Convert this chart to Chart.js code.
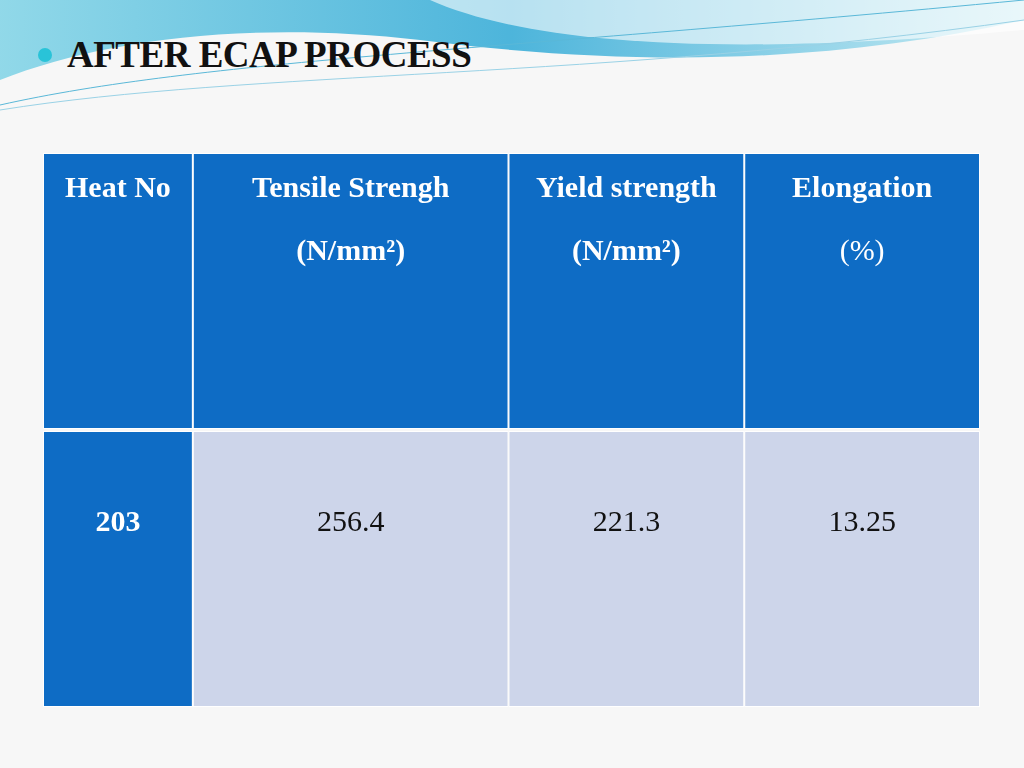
<!DOCTYPE html>
<html>
<head>
<meta charset="utf-8">
<script src="https://cdn.jsdelivr.net/npm/chart.js@4/dist/chart.umd.min.js"></script>
<style>
  html, body { margin: 0; padding: 0; }
  body { width: 1024px; height: 768px; overflow: hidden; position: relative;
         background: #f7f7f7; font-family: "Liberation Serif", serif; }
  #waves { position: absolute; left: 0; top: 0; }
  #title { position: absolute; left: 67px; top: 33px; font-size: 37px; font-weight: bold;
           color: #111; letter-spacing: -0.5px; }
  #bullet { position: absolute; left: 38px; top: 48px; width: 14px; height: 14px;
            border-radius: 50%; background: #29c3d8; }
  #wrap { position: absolute; left: 0; top: 0; width: 1024px; height: 768px; }
</style>
</head>
<body>
<svg id="waves" width="1024" height="120">
  <defs>
    <linearGradient id="g1" x1="0" x2="1" y1="0" y2="0">
      <stop offset="0" stop-color="#7fd3e6"/>
      <stop offset="0.5" stop-color="#2fa9d6"/>
      <stop offset="1" stop-color="#bfe9f2"/>
    </linearGradient>
  </defs>
  <path d="M0,0 L1024,0 L1024,20 C850,60 650,70 420,40 C250,20 100,40 0,80 Z" fill="url(#g1)" opacity="0.85"/>
  <path d="M430,0 C520,40 700,60 1024,30 L1024,0 Z" fill="#ffffff" opacity="0.6"/>
  <path d="M0,105 C200,60 500,50 1024,0" stroke="#5ab8d8" stroke-width="1" fill="none"/>
  <path d="M0,110 C250,70 600,80 1024,20" stroke="#9ad2e6" stroke-width="1" fill="none"/>
</svg>
<div id="bullet"></div>
<div id="title">AFTER ECAP PROCESS</div>
<div id="wrap"><canvas id="c" width="1024" height="768"></canvas></div>
<script>
const rows = ["header", "body"];
const columns = ["Heat No", "Tensile Strengh", "Yield strength", "Elongation"];
const units = ["", "(N/mm²)", "(N/mm²)", "(%)"];
const values = ["203", "256.4", "221.3", "13.25"];

// column widths in table units (layout only)
const colWidths = [150, 316, 236, 236];
const blue = "#0e6cc5";
const pale = "#cdd5ea";

let edge = 0;
const datasets = columns.map((name, i) => {
  const x0 = edge, x1 = edge + colWidths[i];
  edge = x1;
  return {
    label: name,
    data: [{y: "header", x: [x0, x1]}, {y: "body", x: [x0, x1]}],
    backgroundColor: [blue, i === 0 ? blue : pale],
    borderColor: "#ffffff",
    borderWidth: 1,
    borderSkipped: false,
    grouped: false,
    barPercentage: 0.992,
    categoryPercentage: 1
  };
});

const cellText = {
  id: "cellText",
  afterDatasetsDraw(chart) {
    const ctx = chart.ctx;
    ctx.save();
    ctx.textAlign = "center";
    ctx.textBaseline = "middle";
    chart.data.datasets.forEach((ds, i) => {
      const meta = chart.getDatasetMeta(i);
      const h = meta.data[0], b = meta.data[1];
      const cx = (h.x + h.base) / 2;
      const top = h.y - h.height / 2;
      const btop = b.y - b.height / 2;
      ctx.fillStyle = "#ffffff";
      ctx.font = "bold 30px 'Liberation Serif'";
      ctx.fillText(columns[i], cx, top + 36);
      if (units[i]) {
        ctx.font = (i === 3 ? "" : "bold ") + "30px 'Liberation Serif'";
        ctx.fillText(units[i], cx, top + 99);
      }
      ctx.fillStyle = i === 0 ? "#ffffff" : "#111111";
      ctx.font = (i === 0 ? "bold " : "") + "30px 'Liberation Serif'";
      ctx.fillText(values[i], cx, btop + 92);
    });
    ctx.restore();
  }
};

new Chart(document.getElementById("c"), {
  type: "bar",
  data: {labels: rows, datasets},
  options: {
    indexAxis: "y",
    responsive: false,
    animation: false,
    layout: {padding: {left: 43, right: 44, top: 152, bottom: 60}},
    plugins: {legend: {display: false}, tooltip: {enabled: false}},
    scales: {
      x: {type: "linear", min: 0, max: edge, display: false},
      y: {display: false}
    }
  },
  plugins: [cellText]
});
</script>
</body>
</html>
